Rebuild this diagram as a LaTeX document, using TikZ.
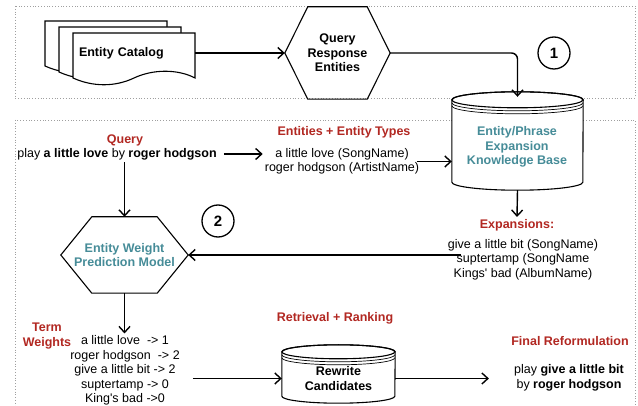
\documentclass[tikz,border=0pt]{standalone}
\usepackage{fontspec}
\setmainfont{Liberation Sans}
\usetikzlibrary{arrows.meta,calc}

\definecolor{hdred}{RGB}{178,40,34}
\definecolor{kbteal}{RGB}{70,140,152}

% hexagon drawn round a node
\newcommand\hexframe[2]{%
  \draw[shapeline] (#1.west) -- ([xshift=#2pt]#1.north west) -- ([xshift=-#2pt]#1.north east)
    -- (#1.east) -- ([xshift=-#2pt]#1.south east) -- ([xshift=#2pt]#1.south west) -- cycle;}
% data store drawn round a node
\newcommand\storeframe[3]{%
  \draw[shapeline, fill=white] ([yshift=-#3pt]#1.north west) -- ([yshift=#3pt]#1.south west)
    arc[start angle=180, end angle=360, x radius=#2pt, y radius=#3pt]
    -- ([yshift=-#3pt]#1.north east)
    arc[start angle=0, end angle=180, x radius=#2pt, y radius=#3pt] -- cycle;
  \draw[shapeline] ([yshift=-#3pt]#1.north west)
    arc[start angle=180, end angle=-180, x radius=#2pt, y radius=#3pt];
  \draw[rimline] ([yshift={-(#3+3)*1pt}]#1.north west)
    arc[start angle=180, end angle=360, x radius=#2pt, y radius=#3pt];
  \draw[rimline] ([yshift={-(#3+6)*1pt}]#1.north west)
    arc[start angle=180, end angle=360, x radius=#2pt, y radius=#3pt];}
% one sheet of the catalog
\newcommand\catsheet[2]{%
  \draw[shapeline, fill=white, shift={(#1,#2)}] (0,0) -- (122,0) -- (122,45)
    .. controls (105,36) and (80,36) .. (61,45)
    .. controls (42,54) and (20,54) .. (0,45) -- cycle;}

\begin{document}
\begin{tikzpicture}[x=1pt, y=-1pt,
    txt/.style={font=\fontsize{12.5}{14.5}\selectfont, align=center, inner sep=2pt},
    hdr/.style={txt, font=\fontsize{12.5}{14.5}\selectfont\bfseries, text=hdred},
    box/.style={txt, font=\fontsize{12.5}{14.5}\selectfont\bfseries},
    flow/.style={line width=1.4pt, -{Straight Barb[length=6pt,width=11pt]}},
    shapeline/.style={line width=1.1pt},
    rimline/.style={line width=0.7pt},
    zone/.style={draw=gray!75, dotted, line width=0.8pt},
    stepnum/.style={circle, draw, line width=1.3pt, minimum size=32pt, inner sep=0pt,
      font=\fontsize{15}{15}\selectfont\bfseries}]
    \useasboundingbox[fill=white] (0,0) rectangle (638,406);
    % zones
    \draw[zone] (15,6) rectangle (635,98);
    \draw[zone] (15,120) rectangle (635,420);
    % entity catalog
    \catsheet{45}{21}
    \catsheet{59}{27}
    \catsheet{73}{33}
    \node[box, text width=110pt, inner xsep=6pt, align=left] (cat) at (134,53) {Entity Catalog};
    % query response entities
    \node[box, minimum width=105pt, minimum height=92pt] (qre) at (337.5,53) {Query\\Response\\Entities};
    \hexframe{qre}{23}
    \node[stepnum] (one) at (554,53) {1};
    % knowledge base
    \node[minimum width=131pt, minimum height=98pt, inner sep=0pt] (kb) at (517.5,141) {};
    \storeframe{kb}{65.5}{8}
    \node[box, text=kbteal] (kbtxt) at (517,147) {Entity/Phrase\\Expansion\\Knowledge Base};
    % query and entities
    \node[hdr] (qlabel) at (125,140) {Query};
    \node[txt] (qry) at (117,154) {play \textbf{a little love} by \textbf{roger hodgson}};
    \node[hdr] (entlabel) at (344,132) {Entities + Entity Types};
    \node[txt] (ent) at (342,161.5) {a little love (SongName)\\roger hodgson (ArtistName)};
    % expansions
    \node[hdr] (explabel) at (517,225) {Expansions:};
    \node[txt] (exp) at (523,259.5) {give a little bit (SongName)\\suptertamp (SongName\\Kings\textquotesingle\ bad (AlbumName)};
    % weight model
    \node[box, text=kbteal, minimum width=127pt, minimum height=76pt] (ewp) at (124.5,255) {Entity Weight\\Prediction Model};
    \hexframe{ewp}{31}
    \node[stepnum] (two) at (218,221) {2};
    % term weights
    \node[hdr] (twlabel) at (47,336) {Term\\Weights};
    \node[txt] (wts) at (125,370.5) {a little love~ -> 1\\roger hodgson~ -> 2\\give a little bit -> 2\\suptertamp -> 0\\King\textquotesingle s bad ->0};
    % rewrite candidates
    \node[hdr] (rrlabel) at (335,318) {Retrieval + Ranking};
    \node[minimum width=113pt, minimum height=58pt, inner sep=0pt] (rw) at (338.5,374) {};
    \storeframe{rw}{56.5}{7}
    \node[box] (rwtxt) at (338.5,378.5) {Rewrite\\Candidates};
    % final reformulation
    \node[hdr] (frlabel) at (570,341) {Final Reformulation};
    \node[txt] (final) at (569,378) {play \textbf{give a little bit}\\by \textbf{roger hodgson}};
    % connectors
    \draw[flow] (cat.east) -- (qre.west);
    \draw[flow, rounded corners=6pt, shorten >=-5pt] (qre.east) -| (kb.north);
    \draw[flow, shorten <=5pt] (qry.east) -- (qry.east -| ent.west);
    \draw[flow, shorten <=-4pt] (ent.east) -- (ent.east -| kb.west);
    \draw[flow] (kb.south) -- (explabel.north);
    \draw[flow, shorten <=-15pt] (exp.west |- ewp.east) -- (ewp.east);
    \draw[flow] (ewp.north |- qry.south) -- (ewp.north);
    \draw[flow] (ewp.south) -- (ewp.south |- wts.north);
    \draw[flow, shorten <=11pt] (wts.east |- rwtxt) -- (rw.west |- rwtxt);
    \draw[flow, shorten >=23pt] (rw.east |- rwtxt) -- (final.west |- rwtxt);
\end{tikzpicture}
\end{document}
